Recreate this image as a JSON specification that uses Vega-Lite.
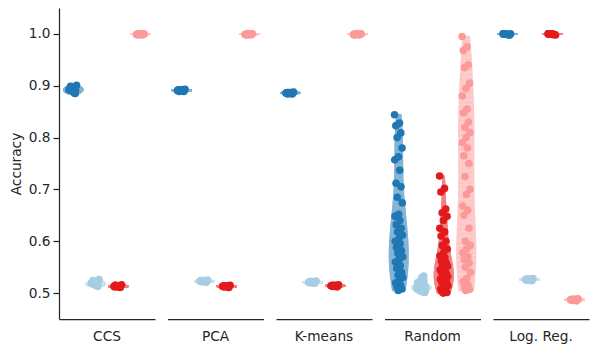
{
  "$schema": "https://vega.github.io/schema/vega-lite/v6.json",
  "padding": {"left": 9, "top": 8, "right": 5, "bottom": 5},
  "data": {"values": [
{"method":"CCS","group":"g1","acc":0.892},{"method":"CCS","group":"g1","acc":0.888},{"method":"CCS","group":"g1","acc":0.897},{"method":"CCS","group":"g1","acc":0.885},{"method":"CCS","group":"g1","acc":0.894},{"method":"CCS","group":"g1","acc":0.901},{"method":"CCS","group":"g1","acc":0.889},{"method":"CCS","group":"g1","acc":0.893},{"method":"CCS","group":"g1","acc":0.886},{"method":"CCS","group":"g1","acc":0.899},{"method":"CCS","group":"g1","acc":0.891},{"method":"CCS","group":"g1","acc":0.895},
{"method":"CCS","group":"g2","acc":0.519},{"method":"CCS","group":"g2","acc":0.515},{"method":"CCS","group":"g2","acc":0.523},{"method":"CCS","group":"g2","acc":0.513},{"method":"CCS","group":"g2","acc":0.521},{"method":"CCS","group":"g2","acc":0.526},{"method":"CCS","group":"g2","acc":0.517},{"method":"CCS","group":"g2","acc":0.52},{"method":"CCS","group":"g2","acc":0.514},{"method":"CCS","group":"g2","acc":0.524},{"method":"CCS","group":"g2","acc":0.518},{"method":"CCS","group":"g2","acc":0.516},
{"method":"CCS","group":"g3","acc":0.513},{"method":"CCS","group":"g3","acc":0.512},{"method":"CCS","group":"g3","acc":0.515},{"method":"CCS","group":"g3","acc":0.511},{"method":"CCS","group":"g3","acc":0.514},{"method":"CCS","group":"g3","acc":0.516},{"method":"CCS","group":"g3","acc":0.513},{"method":"CCS","group":"g3","acc":0.512},{"method":"CCS","group":"g3","acc":0.514},{"method":"CCS","group":"g3","acc":0.515},{"method":"CCS","group":"g3","acc":0.513},{"method":"CCS","group":"g3","acc":0.512},
{"method":"CCS","group":"g4","acc":0.999},{"method":"CCS","group":"g4","acc":1.0},{"method":"CCS","group":"g4","acc":0.998},{"method":"CCS","group":"g4","acc":1.0},{"method":"CCS","group":"g4","acc":0.999},{"method":"CCS","group":"g4","acc":1.0},{"method":"CCS","group":"g4","acc":1.0},{"method":"CCS","group":"g4","acc":0.999},{"method":"CCS","group":"g4","acc":0.998},{"method":"CCS","group":"g4","acc":1.0},{"method":"CCS","group":"g4","acc":0.999},{"method":"CCS","group":"g4","acc":1.0},
{"method":"PCA","group":"g1","acc":0.891},{"method":"PCA","group":"g1","acc":0.89},{"method":"PCA","group":"g1","acc":0.892},{"method":"PCA","group":"g1","acc":0.889},{"method":"PCA","group":"g1","acc":0.891},{"method":"PCA","group":"g1","acc":0.893},{"method":"PCA","group":"g1","acc":0.89},{"method":"PCA","group":"g1","acc":0.891},{"method":"PCA","group":"g1","acc":0.892},{"method":"PCA","group":"g1","acc":0.889},{"method":"PCA","group":"g1","acc":0.891},{"method":"PCA","group":"g1","acc":0.892},
{"method":"PCA","group":"g2","acc":0.523},{"method":"PCA","group":"g2","acc":0.522},{"method":"PCA","group":"g2","acc":0.524},{"method":"PCA","group":"g2","acc":0.521},{"method":"PCA","group":"g2","acc":0.523},{"method":"PCA","group":"g2","acc":0.525},{"method":"PCA","group":"g2","acc":0.522},{"method":"PCA","group":"g2","acc":0.523},{"method":"PCA","group":"g2","acc":0.524},{"method":"PCA","group":"g2","acc":0.522},{"method":"PCA","group":"g2","acc":0.523},{"method":"PCA","group":"g2","acc":0.524},
{"method":"PCA","group":"g3","acc":0.513},{"method":"PCA","group":"g3","acc":0.512},{"method":"PCA","group":"g3","acc":0.514},{"method":"PCA","group":"g3","acc":0.511},{"method":"PCA","group":"g3","acc":0.513},{"method":"PCA","group":"g3","acc":0.515},{"method":"PCA","group":"g3","acc":0.512},{"method":"PCA","group":"g3","acc":0.513},{"method":"PCA","group":"g3","acc":0.514},{"method":"PCA","group":"g3","acc":0.512},{"method":"PCA","group":"g3","acc":0.513},{"method":"PCA","group":"g3","acc":0.514},
{"method":"PCA","group":"g4","acc":0.999},{"method":"PCA","group":"g4","acc":1.0},{"method":"PCA","group":"g4","acc":0.998},{"method":"PCA","group":"g4","acc":1.0},{"method":"PCA","group":"g4","acc":0.999},{"method":"PCA","group":"g4","acc":1.0},{"method":"PCA","group":"g4","acc":1.0},{"method":"PCA","group":"g4","acc":0.999},{"method":"PCA","group":"g4","acc":0.998},{"method":"PCA","group":"g4","acc":1.0},{"method":"PCA","group":"g4","acc":0.999},{"method":"PCA","group":"g4","acc":1.0},
{"method":"K-means","group":"g1","acc":0.886},{"method":"K-means","group":"g1","acc":0.885},{"method":"K-means","group":"g1","acc":0.887},{"method":"K-means","group":"g1","acc":0.884},{"method":"K-means","group":"g1","acc":0.886},{"method":"K-means","group":"g1","acc":0.888},{"method":"K-means","group":"g1","acc":0.885},{"method":"K-means","group":"g1","acc":0.886},{"method":"K-means","group":"g1","acc":0.887},{"method":"K-means","group":"g1","acc":0.884},{"method":"K-means","group":"g1","acc":0.886},{"method":"K-means","group":"g1","acc":0.887},
{"method":"K-means","group":"g2","acc":0.521},{"method":"K-means","group":"g2","acc":0.52},{"method":"K-means","group":"g2","acc":0.522},{"method":"K-means","group":"g2","acc":0.519},{"method":"K-means","group":"g2","acc":0.521},{"method":"K-means","group":"g2","acc":0.523},{"method":"K-means","group":"g2","acc":0.52},{"method":"K-means","group":"g2","acc":0.521},{"method":"K-means","group":"g2","acc":0.522},{"method":"K-means","group":"g2","acc":0.52},{"method":"K-means","group":"g2","acc":0.521},{"method":"K-means","group":"g2","acc":0.522},
{"method":"K-means","group":"g3","acc":0.514},{"method":"K-means","group":"g3","acc":0.513},{"method":"K-means","group":"g3","acc":0.515},{"method":"K-means","group":"g3","acc":0.512},{"method":"K-means","group":"g3","acc":0.514},{"method":"K-means","group":"g3","acc":0.516},{"method":"K-means","group":"g3","acc":0.513},{"method":"K-means","group":"g3","acc":0.514},{"method":"K-means","group":"g3","acc":0.515},{"method":"K-means","group":"g3","acc":0.513},{"method":"K-means","group":"g3","acc":0.514},{"method":"K-means","group":"g3","acc":0.515},
{"method":"K-means","group":"g4","acc":0.999},{"method":"K-means","group":"g4","acc":1.0},{"method":"K-means","group":"g4","acc":0.998},{"method":"K-means","group":"g4","acc":1.0},{"method":"K-means","group":"g4","acc":0.999},{"method":"K-means","group":"g4","acc":1.0},{"method":"K-means","group":"g4","acc":1.0},{"method":"K-means","group":"g4","acc":0.999},{"method":"K-means","group":"g4","acc":0.998},{"method":"K-means","group":"g4","acc":1.0},{"method":"K-means","group":"g4","acc":0.999},{"method":"K-means","group":"g4","acc":1.0},
{"method":"Random","group":"g1","acc":0.844},{"method":"Random","group":"g1","acc":0.828},{"method":"Random","group":"g1","acc":0.823},{"method":"Random","group":"g1","acc":0.809},{"method":"Random","group":"g1","acc":0.8},{"method":"Random","group":"g1","acc":0.78},{"method":"Random","group":"g1","acc":0.763},{"method":"Random","group":"g1","acc":0.757},{"method":"Random","group":"g1","acc":0.737},{"method":"Random","group":"g1","acc":0.712},{"method":"Random","group":"g1","acc":0.705},{"method":"Random","group":"g1","acc":0.685},{"method":"Random","group":"g1","acc":0.674},{"method":"Random","group":"g1","acc":0.652},{"method":"Random","group":"g1","acc":0.648},{"method":"Random","group":"g1","acc":0.64},{"method":"Random","group":"g1","acc":0.632},{"method":"Random","group":"g1","acc":0.625},{"method":"Random","group":"g1","acc":0.618},{"method":"Random","group":"g1","acc":0.612},{"method":"Random","group":"g1","acc":0.605},{"method":"Random","group":"g1","acc":0.6},{"method":"Random","group":"g1","acc":0.595},{"method":"Random","group":"g1","acc":0.588},{"method":"Random","group":"g1","acc":0.582},{"method":"Random","group":"g1","acc":0.577},{"method":"Random","group":"g1","acc":0.57},{"method":"Random","group":"g1","acc":0.565},{"method":"Random","group":"g1","acc":0.56},{"method":"Random","group":"g1","acc":0.553},{"method":"Random","group":"g1","acc":0.548},{"method":"Random","group":"g1","acc":0.54},{"method":"Random","group":"g1","acc":0.535},{"method":"Random","group":"g1","acc":0.53},{"method":"Random","group":"g1","acc":0.524},{"method":"Random","group":"g1","acc":0.52},{"method":"Random","group":"g1","acc":0.515},{"method":"Random","group":"g1","acc":0.512},{"method":"Random","group":"g1","acc":0.508},{"method":"Random","group":"g1","acc":0.505},
{"method":"Random","group":"g2","acc":0.512},{"method":"Random","group":"g2","acc":0.505},{"method":"Random","group":"g2","acc":0.518},{"method":"Random","group":"g2","acc":0.509},{"method":"Random","group":"g2","acc":0.522},{"method":"Random","group":"g2","acc":0.503},{"method":"Random","group":"g2","acc":0.515},{"method":"Random","group":"g2","acc":0.508},{"method":"Random","group":"g2","acc":0.527},{"method":"Random","group":"g2","acc":0.511},{"method":"Random","group":"g2","acc":0.506},{"method":"Random","group":"g2","acc":0.516},{"method":"Random","group":"g2","acc":0.501},{"method":"Random","group":"g2","acc":0.513},{"method":"Random","group":"g2","acc":0.52},{"method":"Random","group":"g2","acc":0.507},{"method":"Random","group":"g2","acc":0.51},{"method":"Random","group":"g2","acc":0.533},{"method":"Random","group":"g2","acc":0.504},{"method":"Random","group":"g2","acc":0.514},{"method":"Random","group":"g2","acc":0.509},{"method":"Random","group":"g2","acc":0.517},{"method":"Random","group":"g2","acc":0.502},{"method":"Random","group":"g2","acc":0.512},{"method":"Random","group":"g2","acc":0.524},{"method":"Random","group":"g2","acc":0.508},{"method":"Random","group":"g2","acc":0.511},{"method":"Random","group":"g2","acc":0.506},{"method":"Random","group":"g2","acc":0.519},{"method":"Random","group":"g2","acc":0.513},{"method":"Random","group":"g2","acc":0.51},{"method":"Random","group":"g2","acc":0.505},{"method":"Random","group":"g2","acc":0.515},{"method":"Random","group":"g2","acc":0.509},{"method":"Random","group":"g2","acc":0.53},{"method":"Random","group":"g2","acc":0.507},{"method":"Random","group":"g2","acc":0.512},{"method":"Random","group":"g2","acc":0.514},{"method":"Random","group":"g2","acc":0.503},{"method":"Random","group":"g2","acc":0.511},
{"method":"Random","group":"g3","acc":0.726},{"method":"Random","group":"g3","acc":0.702},{"method":"Random","group":"g3","acc":0.695},{"method":"Random","group":"g3","acc":0.662},{"method":"Random","group":"g3","acc":0.655},{"method":"Random","group":"g3","acc":0.648},{"method":"Random","group":"g3","acc":0.64},{"method":"Random","group":"g3","acc":0.625},{"method":"Random","group":"g3","acc":0.618},{"method":"Random","group":"g3","acc":0.61},{"method":"Random","group":"g3","acc":0.6},{"method":"Random","group":"g3","acc":0.592},{"method":"Random","group":"g3","acc":0.585},{"method":"Random","group":"g3","acc":0.578},{"method":"Random","group":"g3","acc":0.572},{"method":"Random","group":"g3","acc":0.568},{"method":"Random","group":"g3","acc":0.562},{"method":"Random","group":"g3","acc":0.558},{"method":"Random","group":"g3","acc":0.555},{"method":"Random","group":"g3","acc":0.552},{"method":"Random","group":"g3","acc":0.548},{"method":"Random","group":"g3","acc":0.545},{"method":"Random","group":"g3","acc":0.542},{"method":"Random","group":"g3","acc":0.54},{"method":"Random","group":"g3","acc":0.537},{"method":"Random","group":"g3","acc":0.535},{"method":"Random","group":"g3","acc":0.532},{"method":"Random","group":"g3","acc":0.53},{"method":"Random","group":"g3","acc":0.527},{"method":"Random","group":"g3","acc":0.525},{"method":"Random","group":"g3","acc":0.522},{"method":"Random","group":"g3","acc":0.52},{"method":"Random","group":"g3","acc":0.517},{"method":"Random","group":"g3","acc":0.514},{"method":"Random","group":"g3","acc":0.511},{"method":"Random","group":"g3","acc":0.508},{"method":"Random","group":"g3","acc":0.505},{"method":"Random","group":"g3","acc":0.503},{"method":"Random","group":"g3","acc":0.501},{"method":"Random","group":"g3","acc":0.5},
{"method":"Random","group":"g4","acc":0.995},{"method":"Random","group":"g4","acc":0.975},{"method":"Random","group":"g4","acc":0.968},{"method":"Random","group":"g4","acc":0.94},{"method":"Random","group":"g4","acc":0.935},{"method":"Random","group":"g4","acc":0.905},{"method":"Random","group":"g4","acc":0.895},{"method":"Random","group":"g4","acc":0.88},{"method":"Random","group":"g4","acc":0.855},{"method":"Random","group":"g4","acc":0.848},{"method":"Random","group":"g4","acc":0.83},{"method":"Random","group":"g4","acc":0.82},{"method":"Random","group":"g4","acc":0.81},{"method":"Random","group":"g4","acc":0.8},{"method":"Random","group":"g4","acc":0.79},{"method":"Random","group":"g4","acc":0.78},{"method":"Random","group":"g4","acc":0.765},{"method":"Random","group":"g4","acc":0.75},{"method":"Random","group":"g4","acc":0.725},{"method":"Random","group":"g4","acc":0.7},{"method":"Random","group":"g4","acc":0.69},{"method":"Random","group":"g4","acc":0.668},{"method":"Random","group":"g4","acc":0.66},{"method":"Random","group":"g4","acc":0.65},{"method":"Random","group":"g4","acc":0.625},{"method":"Random","group":"g4","acc":0.6},{"method":"Random","group":"g4","acc":0.592},{"method":"Random","group":"g4","acc":0.585},{"method":"Random","group":"g4","acc":0.578},{"method":"Random","group":"g4","acc":0.57},{"method":"Random","group":"g4","acc":0.565},{"method":"Random","group":"g4","acc":0.558},{"method":"Random","group":"g4","acc":0.55},{"method":"Random","group":"g4","acc":0.54},{"method":"Random","group":"g4","acc":0.528},{"method":"Random","group":"g4","acc":0.522},{"method":"Random","group":"g4","acc":0.515},{"method":"Random","group":"g4","acc":0.51},{"method":"Random","group":"g4","acc":0.507},{"method":"Random","group":"g4","acc":0.505},
{"method":"Log. Reg.","group":"g1","acc":1.0},{"method":"Log. Reg.","group":"g1","acc":0.999},{"method":"Log. Reg.","group":"g1","acc":1.0},{"method":"Log. Reg.","group":"g1","acc":0.998},{"method":"Log. Reg.","group":"g1","acc":1.0},{"method":"Log. Reg.","group":"g1","acc":1.0},{"method":"Log. Reg.","group":"g1","acc":0.999},{"method":"Log. Reg.","group":"g1","acc":1.0},{"method":"Log. Reg.","group":"g1","acc":0.999},{"method":"Log. Reg.","group":"g1","acc":1.0},{"method":"Log. Reg.","group":"g1","acc":0.998},{"method":"Log. Reg.","group":"g1","acc":1.0},
{"method":"Log. Reg.","group":"g2","acc":0.526},{"method":"Log. Reg.","group":"g2","acc":0.525},{"method":"Log. Reg.","group":"g2","acc":0.527},{"method":"Log. Reg.","group":"g2","acc":0.524},{"method":"Log. Reg.","group":"g2","acc":0.526},{"method":"Log. Reg.","group":"g2","acc":0.528},{"method":"Log. Reg.","group":"g2","acc":0.525},{"method":"Log. Reg.","group":"g2","acc":0.526},{"method":"Log. Reg.","group":"g2","acc":0.527},{"method":"Log. Reg.","group":"g2","acc":0.525},{"method":"Log. Reg.","group":"g2","acc":0.526},{"method":"Log. Reg.","group":"g2","acc":0.527},
{"method":"Log. Reg.","group":"g3","acc":1.0},{"method":"Log. Reg.","group":"g3","acc":0.999},{"method":"Log. Reg.","group":"g3","acc":1.0},{"method":"Log. Reg.","group":"g3","acc":0.999},{"method":"Log. Reg.","group":"g3","acc":1.0},{"method":"Log. Reg.","group":"g3","acc":0.998},{"method":"Log. Reg.","group":"g3","acc":1.0},{"method":"Log. Reg.","group":"g3","acc":1.0},{"method":"Log. Reg.","group":"g3","acc":0.999},{"method":"Log. Reg.","group":"g3","acc":1.0},{"method":"Log. Reg.","group":"g3","acc":0.999},{"method":"Log. Reg.","group":"g3","acc":1.0},
{"method":"Log. Reg.","group":"g4","acc":0.487},{"method":"Log. Reg.","group":"g4","acc":0.486},{"method":"Log. Reg.","group":"g4","acc":0.488},{"method":"Log. Reg.","group":"g4","acc":0.485},{"method":"Log. Reg.","group":"g4","acc":0.487},{"method":"Log. Reg.","group":"g4","acc":0.489},{"method":"Log. Reg.","group":"g4","acc":0.486},{"method":"Log. Reg.","group":"g4","acc":0.487},{"method":"Log. Reg.","group":"g4","acc":0.488},{"method":"Log. Reg.","group":"g4","acc":0.486},{"method":"Log. Reg.","group":"g4","acc":0.487},{"method":"Log. Reg.","group":"g4","acc":0.488}
  ]},
  "facet": {
    "column": {
      "field": "method", "type": "nominal", "title": null,
      "sort": ["CCS", "PCA", "K-means", "Random", "Log. Reg."],
      "header": {"labelOrient": "bottom", "labelFont": "DejaVu Sans", "labelFontSize": 13.7, "labelColor": "#262626", "labelPadding": 11}
    }
  },
  "spacing": 12.5,
  "spec": {
    "width": 96,
    "height": 311,
    "encoding": {
      "x": {"field": "group", "type": "nominal", "title": null,
        "scale": {"domain": ["g1", "g2", "g3", "g4"], "paddingInner": 0.62, "paddingOuter": 0.443},
        "axis": {"labels": false, "ticks": false, "domain": true, "domainColor": "#262626", "domainWidth": 1.25}}
    },
    "layer": [
      {
        "transform": [{"filter": "datum.group == 'g1'"}, {"density": "acc", "groupby": ["method", "group"], "steps": 200}],
        "mark": {"type": "tick", "thickness": 1.6, "color": "#84b4d5", "opacity": 1},
        "encoding": {
          "y": {"field": "value", "type": "quantitative", "title": "Accuracy", "scale": {"domain": [0.45, 1.05], "nice": false, "zero": false}},
          "size": {"field": "density", "type": "quantitative", "scale": {"range": [0, 20]}, "legend": null}
        }
      },
      {
        "transform": [{"filter": "datum.group == 'g2'"}, {"density": "acc", "groupby": ["method", "group"], "steps": 200}],
        "mark": {"type": "tick", "thickness": 1.6, "color": "#cee4f0", "opacity": 1},
        "encoding": {
          "y": {"field": "value", "type": "quantitative", "title": "Accuracy"},
          "size": {"field": "density", "type": "quantitative", "scale": {"range": [0, 20]}, "legend": null}
        }
      },
      {
        "transform": [{"filter": "datum.group == 'g3'"}, {"density": "acc", "groupby": ["method", "group"], "steps": 200}],
        "mark": {"type": "tick", "thickness": 1.6, "color": "#f18485", "opacity": 1},
        "encoding": {
          "y": {"field": "value", "type": "quantitative", "title": "Accuracy"},
          "size": {"field": "density", "type": "quantitative", "scale": {"range": [0, 20]}, "legend": null}
        }
      },
      {
        "transform": [{"filter": "datum.group == 'g4'"}, {"density": "acc", "groupby": ["method", "group"], "steps": 200}],
        "mark": {"type": "tick", "thickness": 1.6, "color": "#fec7c7", "opacity": 1},
        "encoding": {
          "y": {"field": "value", "type": "quantitative", "title": "Accuracy"},
          "size": {"field": "density", "type": "quantitative", "scale": {"range": [0, 20]}, "legend": null}
        }
      },
      {
        "transform": [{"window": [{"op": "row_number", "as": "seed"}], "groupby": ["method", "group"]}],
        "mark": {"type": "circle", "size": 58, "opacity": 1},
        "encoding": {
          "xOffset": {"field": "seed", "type": "ordinal",
            "scale": {"domain": [1,8,15,22,29,36,3,10,17,24,31,38,5,12,19,26,33,40,7,14,21,28,35,2,9,16,23,30,37,4,11,18,25,32,39,6,13,20,27,34]}},
          "y": {"field": "acc", "type": "quantitative", "title": "Accuracy"},
          "color": {"field": "group", "type": "nominal", "legend": null,
            "scale": {"domain": ["g1", "g2", "g3", "g4"], "range": ["#1f78b4", "#a6cee3", "#e31a1c", "#fb9a99"]}}
        }
      }
    ],
    "resolve": {"scale": {"size": "independent"}}
  },
  "resolve": {"scale": {"size": "independent"}},
  "config": {
    "view": {"stroke": null},
    "font": "DejaVu Sans",
    "axis": {"grid": false},
    "axisY": {
      "values": [0.5, 0.6, 0.7, 0.8, 0.9, 1.0], "format": ".1f",
      "labelFont": "DejaVu Sans", "labelFontSize": 13.7, "labelColor": "#262626", "labelPadding": 3,
      "tickSize": 6, "tickColor": "#262626", "tickWidth": 1.25,
      "domainColor": "#262626", "domainWidth": 1.25,
      "titleFont": "DejaVu Sans", "titleFontSize": 13.7, "titleFontWeight": "normal", "titleColor": "#262626", "titlePadding": 5
    }
  }
}
